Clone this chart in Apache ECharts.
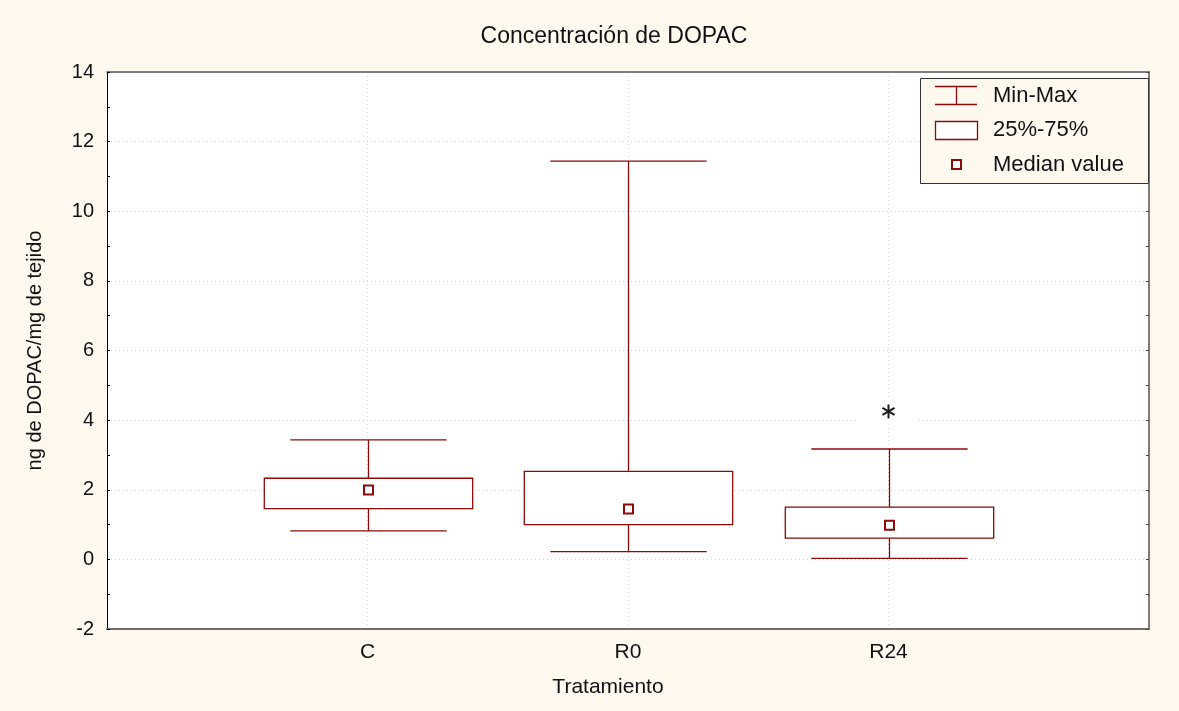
<!DOCTYPE html>
<html>
<head>
<meta charset="utf-8">
<script src="https://cdn.jsdelivr.net/npm/echarts@6/dist/echarts.min.js"></script>
<style>
html,body{margin:0;padding:0;background:#fef9ef;}
#chart{width:1179px;height:711px;}
</style>
</head>
<body>
<div id="chart"></div>
<script>
// ---- data ----
var categories = ['C', 'R0', 'R24'];
var minValues    = [0.82, 0.22, 0.03];
var q1Values     = [1.46, 1.00, 0.61];
var medianValues = [1.99, 1.45, 0.98];
var q3Values     = [2.33, 2.53, 1.50];
var maxValues    = [3.43, 11.44, 3.17];
var outlierCategory = ['R24'];
var outlierValues   = [4.25];
var yTicks = [-2, 0, 2, 4, 6, 8, 10, 12, 14];

var boxData = categories.map(function (c, i) {
  return [i + 1, minValues[i], q1Values[i], medianValues[i], q3Values[i], maxValues[i]];
});
var outlierData = outlierCategory.map(function (c, i) {
  return [categories.indexOf(c) + 1, outlierValues[i]];
});

var RED = '#8b0a0a';
var FONT = 'Liberation Sans, Arial, sans-serif';
var Y_MIN = yTicks[0], Y_MAX = yTicks[yTicks.length - 1];

var chart = echarts.init(document.getElementById('chart'));
chart.setOption({
  backgroundColor: '#fef9ef',
  animation: false,
  title: {
    text: 'Concentración de DOPAC',
    left: 609, top: 20, textAlign: 'center',
    textStyle: { fontFamily: FONT, fontSize: 23, fontWeight: 'normal', color: '#111' }
  },
  grid: { left: 107, right: 30, top: 72, bottom: 82, show: true, backgroundColor: '#ffffff', borderWidth: 0 },
  xAxis: [{
    type: 'value', min: 0, max: 4, interval: 1,
    name: 'Tratamiento', nameLocation: 'middle', nameGap: 48,
    nameTextStyle: { fontFamily: FONT, fontSize: 21, color: '#111', padding: [0, 40, 0, 0] },
    axisLine: { show: true, onZero: false, lineStyle: { color: '#6e6e6e', width: 2 } },
    axisTick: { show: false },
    axisLabel: {
      fontFamily: FONT, fontSize: 21, color: '#111', margin: 13,
      formatter: function (v) { return categories[v - 1] || ''; }
    },
    splitLine: { show: true, lineStyle: { color: '#d8d8d8', type: [1, 3], width: 1 } }
  }, {
    type: 'value', min: 0, max: 4, interval: 1, position: 'top',
    axisLine: { show: true, onZero: false, lineStyle: { color: '#555', width: 1.5 } },
    axisTick: { show: false }, axisLabel: { show: false }, splitLine: { show: false }
  }],
  yAxis: [{
    type: 'value', min: Y_MIN, max: Y_MAX, interval: 2,
    name: 'ng de DOPAC/mg de tejido', nameLocation: 'middle', nameGap: 62,
    nameTextStyle: { fontFamily: FONT, fontSize: 20, color: '#111' },
    axisLine: { show: true, onZero: false, lineStyle: { color: '#000', width: 1 } },
    axisTick: { show: false },
    axisLabel: { fontFamily: FONT, fontSize: 20, color: '#111', margin: 13 },
    splitLine: { show: true, lineStyle: { color: '#d8d8d8', type: [1, 3], width: 1 } }
  }, {
    type: 'value', min: Y_MIN, max: Y_MAX, interval: 1, position: 'right',
    axisLine: { show: true, onZero: false, lineStyle: { color: '#555', width: 1.5 } },
    axisTick: { show: true, inside: true, length: 3, lineStyle: { color: '#444' } },
    axisLabel: { show: false }, splitLine: { show: false }
  }, {
    type: 'value', min: Y_MIN, max: Y_MAX, interval: 1, position: 'left',
    axisLine: { show: false, onZero: false },
    axisTick: { show: true, inside: true, length: 3, lineStyle: { color: '#000' } },
    axisLabel: { show: false }, splitLine: { show: false }
  }],
  series: [{
    type: 'custom',
    xAxisIndex: 0, yAxisIndex: 0,
    data: boxData,
    renderItem: function (params, api) {
      var x = api.value(0);
      var pMin = api.coord([x, api.value(1)]);
      var pQ1 = api.coord([x, api.value(2)]);
      var pMed = api.coord([x, api.value(3)]);
      var pQ3 = api.coord([x, api.value(4)]);
      var pMax = api.coord([x, api.value(5)]);
      var boxHalf = api.size([0.8, 0])[0] / 2;
      var capHalf = api.size([0.6, 0])[0] / 2;
      var cx = Math.round(pMed[0]) + 0.5;
      var ls = { stroke: RED, lineWidth: 1.3, fill: null };
      return {
        type: 'group',
        children: [
          { type: 'line', shape: { x1: cx, y1: pMax[1], x2: cx, y2: pQ3[1] }, style: ls },
          { type: 'line', shape: { x1: cx, y1: pQ1[1], x2: cx, y2: pMin[1] }, style: ls },
          { type: 'line', shape: { x1: cx - capHalf, y1: pMax[1], x2: cx + capHalf, y2: pMax[1] }, style: ls },
          { type: 'line', shape: { x1: cx - capHalf, y1: pMin[1], x2: cx + capHalf, y2: pMin[1] }, style: ls },
          { type: 'rect', shape: { x: cx - boxHalf, y: pQ3[1], width: 2 * boxHalf, height: pQ1[1] - pQ3[1] },
            style: { stroke: RED, lineWidth: 1.3, fill: '#ffffff' } },
          { type: 'rect', shape: { x: cx - 4.5, y: pMed[1] - 4.5, width: 9, height: 9 },
            style: { stroke: RED, lineWidth: 2, fill: '#ffffff' } }
        ]
      };
    }
  }, {
    type: 'custom',
    xAxisIndex: 0, yAxisIndex: 0,
    data: outlierData,
    renderItem: function (params, api) {
      var p = api.coord([api.value(0), api.value(1)]);
      var r = 7;
      var st = { stroke: '#1a1a1a', lineWidth: 2 };
      var ch = [{ type: 'rect', shape: { x: p[0] - 30, y: p[1] - 11, width: 60, height: 24 }, style: { fill: '#ffffff' } }];
      [90, 30, 150].forEach(function (a) {
        var rad = a * Math.PI / 180;
        var dx = Math.cos(rad) * r, dy = Math.sin(rad) * r;
        ch.push({ type: 'line', shape: { x1: p[0] - dx, y1: p[1] - dy, x2: p[0] + dx, y2: p[1] + dy }, style: st });
      });
      return { type: 'group', children: ch };
    }
  }],
  graphic: [
    { type: 'rect', shape: { x: 920.5, y: 78.5, width: 228, height: 105 },
      style: { fill: '#fef9ef', stroke: '#333', lineWidth: 1 }, z: 100 },
    { type: 'line', z: 101, shape: { x1: 935, y1: 86.5, x2: 977, y2: 86.5 }, style: { stroke: RED, lineWidth: 1.3 } },
    { type: 'line', z: 101, shape: { x1: 935, y1: 104.5, x2: 977, y2: 104.5 }, style: { stroke: RED, lineWidth: 1.3 } },
    { type: 'line', z: 101, shape: { x1: 956.5, y1: 86.5, x2: 956.5, y2: 104.5 }, style: { stroke: RED, lineWidth: 1.3 } },
    { type: 'rect', z: 101, shape: { x: 935.5, y: 121.5, width: 42, height: 18 },
      style: { fill: '#ffffff', stroke: RED, lineWidth: 1.3 } },
    { type: 'rect', z: 101, shape: { x: 952, y: 160, width: 9, height: 9 },
      style: { fill: '#ffffff', stroke: RED, lineWidth: 2 } },
    { type: 'text', left: 993, top: 85, z: 101, style: { text: 'Min-Max', font: '22px Liberation Sans', fill: '#111' } },
    { type: 'text', left: 993, top: 119, z: 101, style: { text: '25%-75%', font: '22px Liberation Sans', fill: '#111' } },
    { type: 'text', left: 993, top: 154, z: 101, style: { text: 'Median value', font: '22px Liberation Sans', fill: '#111' } }
  ]
});
</script>
</body>
</html>
